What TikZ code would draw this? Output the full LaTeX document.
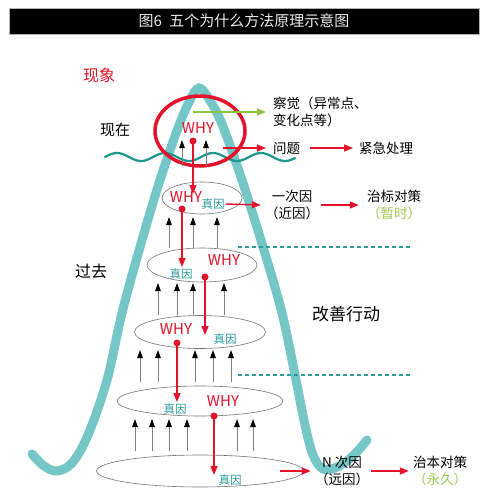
\documentclass[tikz,border=0pt]{standalone}
\usepackage{fontspec}
\setmainfont{Noto Sans CJK SC}
\usetikzlibrary{arrows.meta,shapes.geometric}
\definecolor{tealc}{HTML}{74C6C7}
\definecolor{wavec}{HTML}{1E9690}
\definecolor{redc}{HTML}{E2132A}
\definecolor{greenc}{HTML}{8DC43F}
\definecolor{zhenc}{HTML}{2A9A98}
\definecolor{gtxt}{HTML}{9BC84A}
\definecolor{dashc}{HTML}{2A9D9A}
\begin{document}
\begin{tikzpicture}[x=1pt,y=-1pt,
  redarr/.style={draw=redc, line width=1.4pt, -{Triangle[length=9pt,width=7pt]}},
  greenarr/.style={draw=greenc, line width=1.4pt, -{Triangle[length=9pt,width=7pt]}},
  blkarr/.style={draw=gray, line width=1pt, -{Triangle[length=8pt,width=5.5pt,color=black]}},
  reddot/.style={circle, fill=redc, inner sep=0, minimum size=7pt},
  layer/.style={ellipse, draw=gray!90!black, line width=0.6pt, inner sep=0},
  lab/.style={font=\fontsize{13.5}{17}\selectfont, inner sep=0},
  why/.style={text=redc, font=\fontsize{15}{16}\selectfont, inner sep=0},
  zhen/.style={text=zhenc, font=\fontsize{11.5}{12}\selectfont, inner sep=0},
  dline/.style={draw=dashc, line width=1.2pt, dash pattern=on 4pt off 3pt}
]
\useasboundingbox (0,0) rectangle (483,498);
% title bar
\node[fill=black, draw=gray!60, line width=0.5pt, minimum width=470pt, minimum height=26pt, anchor=north west, inner sep=0] (bar) at (9,8) {};
\node[text=white!92!black, font=\fontsize{15}{16}\selectfont, inner sep=0] (title) at (244,21) {图6\hspace{0.5em}五个为什么方法原理示意图};

% bell curve
\draw[tealc, line width=9pt, line cap=round] plot[smooth, tension=0.55] coordinates {
(32,454) (44,466) (57,471) (72,463) (88,435) (107,380) (122,313) (140,247) (160,180) (178,128) (190,100) (199,88) (209,99) (222,124) (242,180) (263,247) (282,313) (296,380) (305,425) (313,455) (323,469) (337,467) (353,456) (367,440)};

% wave
\draw[wavec, line width=2.2pt, line cap=round] plot[domain=105:295, samples=120, smooth] (\x, {157 - 4*sin((\x-105)*7.5)});

% dashed lines
\coordinate (da1) at (238,247); \coordinate (db1) at (410,247);
\coordinate (da2) at (238,375); \coordinate (db2) at (410,375);
\draw[dline] (da1) -- (db1);
\draw[dline] (da2) -- (db2);

% red ellipse
\node[ellipse, draw=redc, line width=3.5pt, minimum width=90pt, minimum height=70pt, inner sep=0] (re) at (200,131) {};

% grey layers
\node[layer, minimum width=80pt, minimum height=32pt] (e1) at (202,198) {};
\node[layer, minimum width=110pt, minimum height=34pt] (e2) at (202,265) {};
\node[layer, minimum width=131pt, minimum height=33pt] (e3) at (200,332) {};
\node[layer, minimum width=166pt, minimum height=30pt] (e4) at (200,401) {};
\node[layer, minimum width=207pt, minimum height=32pt] (e5) at (200,471) {};

% WHY and 真因
\node[why] (w0) at (198,128) {WHY};
\node[why] (w1) at (186,197) {WHY};
\node[zhen] (z1) at (213,204) {真因};
\node[why] (w2) at (224,260) {WHY};
\node[zhen] (z2) at (181,274) {真因};
\node[why] (w3) at (176,329) {WHY};
\node[zhen] (z3) at (225,339) {真因};
\node[why] (w4) at (223,401) {WHY};
\node[zhen] (z4) at (175,409) {真因};
\node[zhen] (z5) at (230,480) {真因};

% black arrows
\foreach \x in {182,206} \draw[blkarr] (\x,166) -- (\x,140);
\foreach \x in {169,193,217} \draw[blkarr] (\x,248) -- (\x,217);
\foreach \x in {158,177,193,224} \draw[blkarr] (\x,315) -- (\x,283);
\foreach \x in {140,158,195,213,231} \draw[blkarr] (\x,382) -- (\x,350);
\foreach \x in {135,152,169,187,237,253} \draw[blkarr] (\x,451) -- (\x,419);

% red dots and vertical arrows
\node[reddot] (d0) at (193,141) {};
\node[reddot] (d1) at (182,209) {};
\node[reddot] (d2) at (205,277) {};
\node[reddot] (d3) at (177,343) {};
\node[reddot] (d4) at (214,416) {};
\coordinate (t0) at (193,194);
\coordinate (t1) at (182,267);
\coordinate (t2) at (205,335);
\coordinate (t3) at (177,402);
\coordinate (t4) at (214,475);
\draw[redarr] (d0.center) -- (t0);
\draw[redarr] (d1.center) -- (t1);
\draw[redarr] (d2.center) -- (t2);
\draw[redarr] (d3.center) -- (t3);
\draw[redarr] (d4.center) -- (t4);

% side labels
\node[text=redc, font=\fontsize{16}{17}\selectfont, inner sep=0] (xx) at (99,75) {现象};
\node[font=\fontsize{15}{16}\selectfont, inner sep=0] (xz) at (115,130) {现在};
\node[font=\fontsize{16}{17}\selectfont, inner sep=0] (gq) at (91,271) {过去};
\node[font=\fontsize{17}{18}\selectfont, inner sep=0] (gs) at (346,314) {改善行动};

% right labels
\node[lab, align=left, anchor=west] (cj) at (273,112) {察觉（异常点、\\变化点等）};
\node[lab, anchor=west] (wt) at (273,148) {问题};
\node[lab, anchor=west] (jj) at (359,148) {紧急处理};
\node[lab, align=center] (yc) at (292,205) {一次因\\（近因）};
\node[lab, align=center] (zb) at (394,205) {治标对策\\\textcolor{gtxt}{（暂时）}};
\node[lab, align=center] (nc) at (342,471) {N 次因\\（远因）};
\node[lab, align=center] (zben) at (440,471) {治本对策\\\textcolor{gtxt}{（永久）}};

% horizontal arrows
\coordinate (g0) at (193,112);
\draw[greenarr] (g0) -- ([xshift=-7pt]cj.west |- g0);
\coordinate (r0) at (223,148);
\draw[redarr] (r0) -- ([xshift=-7pt]wt.west);
\draw[redarr] ([xshift=10pt]wt.east) -- ([xshift=-6pt]jj.west);
\draw[redarr] ([xshift=1pt]z1.east) -- ([xshift=-4pt]yc.west);
\draw[redarr] ([xshift=2pt]yc.east) -- ([xshift=-8pt]zb.west);
\coordinate (r5) at (280,471);
\draw[redarr] (r5) -- ([xshift=-4pt]nc.west);
\draw[redarr] ([xshift=2pt]nc.east) -- ([xshift=-4pt]zben.west);
\end{tikzpicture}
\end{document}
